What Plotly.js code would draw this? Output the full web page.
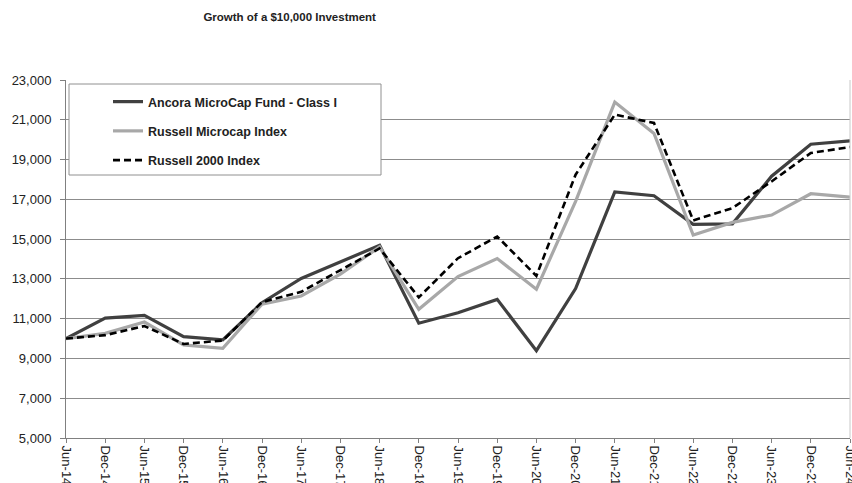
<!DOCTYPE html>
<html>
<head>
<meta charset="utf-8">
<script src="https://cdn.plot.ly/plotly-3.0.1.min.js"></script>
<style>html,body{margin:0;padding:0;background:#fff;}#chart{width:852px;height:483px;}</style>
</head>
<body>
<div id="chart"></div>
<script>
const periods = ["Jun-14","Dec-14","Jun-15","Dec-15","Jun-16","Dec-16","Jun-17","Dec-17","Jun-18","Dec-18",
  "Jun-19","Dec-19","Jun-20","Dec-20","Jun-21","Dec-21","Jun-22","Dec-22","Jun-23","Dec-23","Jun-24"];
const fundValues = [10000,11030,11170,10100,9930,11800,13020,13860,14690,10770,
  11300,11970,9390,12510,17370,17180,15740,15770,18160,19770,19940];
const microcapValues = [10000,10260,10830,9680,9510,11730,12140,13240,14610,11470,
  13120,14020,12480,16900,21890,20310,15200,15840,16210,17280,17110];
const r2000Values = [10000,10170,10630,9730,9900,11830,12350,13440,14530,12070,
  14040,15130,13150,18240,21260,20840,15940,16560,17900,19330,19630];
const seriesNames = ["Ancora MicroCap Fund - Class I","Russell Microcap Index","Russell 2000 Index"];
const yTicks = [5000,7000,9000,11000,13000,15000,17000,19000,21000,23000];

const traces = [
  {x: periods, y: fundValues, name: seriesNames[0], type: "scatter", mode: "lines",
   line: {color: "#404040", width: 3.2}, legendgroup: "a"},
  {x: periods, y: microcapValues, name: seriesNames[1], type: "scatter", mode: "lines",
   line: {color: "#a8a8a8", width: 3.2}, legendgroup: "b"},
  {x: periods, y: r2000Values, name: seriesNames[2], type: "scatter", mode: "lines",
   line: {color: "#000000", width: 2.6, dash: "7px,4px"}, legendgroup: "c"}
];

const layout = {
  width: 852, height: 483,
  margin: {l: 66, r: 2, t: 80, b: 45},
  paper_bgcolor: "#ffffff", plot_bgcolor: "#ffffff",
  showlegend: true,
  title: {text: "Growth of a $10,000 Investment", x: 0.34, xref: "container", xanchor: "center",
    y: 0.965, yref: "container", yanchor: "middle",
    font: {family: "Liberation Sans, Arial, sans-serif", size: 11.5, color: "#222", weight: "bold"}},
  font: {family: "Liberation Sans, Arial, sans-serif", color: "#222"},
  xaxis: {type: "category", range: [0, periods.length - 1], tickangle: 90,
    ticks: "outside", ticklen: 4, tickcolor: "#808080", showgrid: false,
    showline: true, linecolor: "#808080", linewidth: 1, mirror: false,
    tickfont: {size: 13, color: "#222"}, zeroline: false},
  yaxis: {range: [5000, 23000], tickvals: yTicks, tickformat: ",d",
    ticks: "outside", ticklen: 5, tickcolor: "#808080", ticklabelstandoff: 6,
    showgrid: true, gridcolor: "#8c8c8c", gridwidth: 1,
    showline: true, linecolor: "#808080", linewidth: 1, zeroline: false,
    tickfont: {size: 13, color: "#222"}},
  shapes: [
    {type: "line", xref: "paper", yref: "paper", x0: 1, x1: 1, y0: 0, y1: 1,
     line: {color: "#c8c8c8", width: 1}},
    {type: "rect", xref: "paper", yref: "paper",
     x0: (69 - 66) / 784, x1: (381 - 66) / 784, y0: (438 - 175) / 358, y1: (438 - 84) / 358,
     fillcolor: "#ffffff", line: {color: "#909090", width: 1}, layer: "above"}
  ],
  legend: {x: (108 - 66) / 784, y: (438 - 87) / 358, xanchor: "left", yanchor: "top",
    bgcolor: "rgba(0,0,0,0)", borderwidth: 0, traceorder: "grouped", tracegroupgap: 10,
    font: {family: "Liberation Sans Narrow, Arial Narrow, sans-serif", size: 12.5, color: "#222", weight: "bold"}}
};

Plotly.newPlot("chart", traces, layout, {displayModeBar: false, staticPlot: true});
</script>
</body>
</html>
